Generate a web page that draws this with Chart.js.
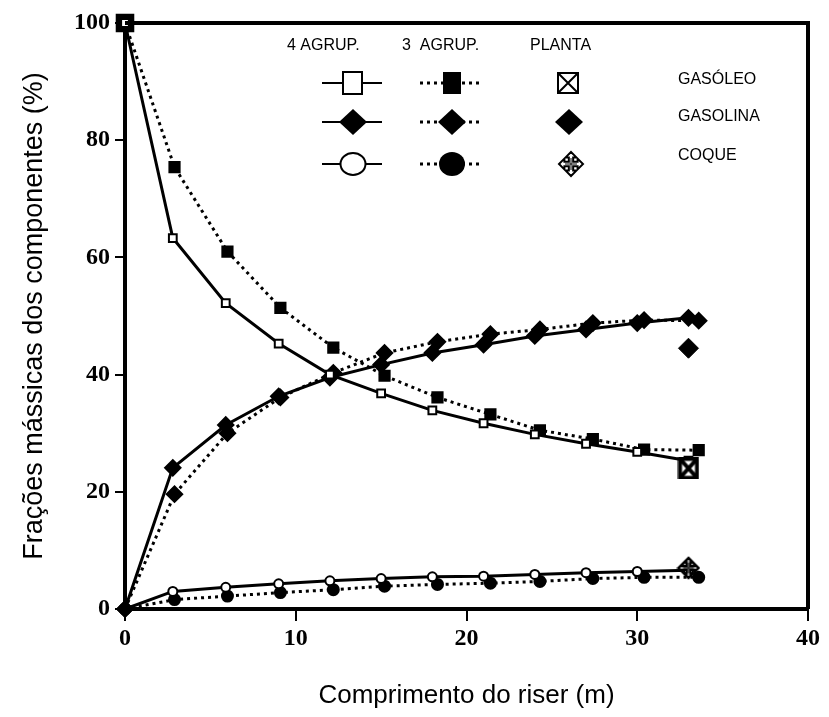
<!DOCTYPE html>
<html>
<head>
<meta charset="utf-8">
<script src="https://cdn.jsdelivr.net/npm/chart.js@4.4.1/dist/chart.umd.min.js"></script>
<style>
  html, body { margin: 0; padding: 0; background: #fff; }
</style>
</head>
<body>
<canvas id="chart" width="829" height="717"></canvas>
<script>
// riser length (m) of the points
const x4 = [0, 2.8, 5.9, 9, 12, 15, 18, 21, 24, 27, 30, 33];
const x3 = [0, 2.9, 6.0, 9.1, 12.2, 15.2, 18.3, 21.4, 24.3, 27.4, 30.4, 33.6];

// 4 agrupamentos (solid lines)
const gasoleo4 = [100, 63.3, 52.2, 45.3, 40.0, 36.8, 33.9, 31.7, 29.8, 28.2, 26.8, 25.3];
const gasolina4 = [0, 24.1, 31.4, 36.3, 39.5, 41.7, 43.7, 45.1, 46.6, 47.7, 48.8, 49.7];
const coque4 = [0, 3.0, 3.7, 4.3, 4.8, 5.2, 5.5, 5.6, 5.9, 6.2, 6.4, 6.6];

// 3 agrupamentos (dotted lines)
const gasoleo3 = [100, 75.4, 61.0, 51.4, 44.6, 39.8, 36.1, 33.2, 30.5, 29.0, 27.2, 27.1];
const gasolina3 = [0, 19.6, 30.0, 36.1, 40.3, 43.7, 45.6, 46.9, 47.7, 48.8, 49.3, 49.2];
const coque3 = [0, 1.6, 2.2, 2.8, 3.3, 3.9, 4.2, 4.4, 4.7, 5.2, 5.4, 5.4];

// planta: gasóleo, gasolina, coque
const plantaX = 33;
const planta = [24.0, 44.5, 7.0];

const xTicks = [0, 10, 20, 30, 40];
const yTicks = [0, 20, 40, 60, 80, 100];

const pts = (xs, ys) => xs.map((x, i) => ({ x: x, y: ys[i] }));

// little drawn markers for the planta points
function arrowPath(g, cx, cy, r) {
  const p = [[0,-1],[0.45,-0.55],[0.18,-0.55],[0.18,-0.18],[0.55,-0.18],[0.55,-0.45],[1,0],
    [0.55,0.45],[0.55,0.18],[0.18,0.18],[0.18,0.55],[0.45,0.55],[0,1],[-0.45,0.55],[-0.18,0.55],
    [-0.18,0.18],[-0.55,0.18],[-0.55,0.45],[-1,0],[-0.55,-0.45],[-0.55,-0.18],[-0.18,-0.18],
    [-0.18,-0.55],[-0.45,-0.55]];
  g.beginPath();
  p.forEach(([a, b], i) => i ? g.lineTo(cx + a * r, cy + b * r) : g.moveTo(cx + a * r, cy + b * r));
  g.closePath();
}

function drawCross(g, cx, cy, r, lw) {
  arrowPath(g, cx, cy, r);
  g.fillStyle = '#fff';
  g.fill();
  g.lineWidth = lw;
  g.strokeStyle = '#000';
  g.stroke();
  g.beginPath();
  g.lineWidth = 1;
  g.moveTo(cx - 0.5 * r, cy); g.lineTo(cx + 0.5 * r, cy);
  g.moveTo(cx, cy - 0.5 * r); g.lineTo(cx, cy + 0.5 * r);
  g.stroke();
}

function drawBoxX(g, cx, cy, w, h, lw) {
  g.fillStyle = '#fff';
  g.fillRect(cx - w / 2, cy - h / 2, w, h);
  g.strokeStyle = '#000';
  g.lineWidth = lw;
  g.strokeRect(cx - w / 2, cy - h / 2, w, h);
  g.beginPath();
  g.moveTo(cx - w / 2, cy - h / 2); g.lineTo(cx + w / 2, cy + h / 2);
  g.moveTo(cx + w / 2, cy - h / 2); g.lineTo(cx - w / 2, cy + h / 2);
  g.stroke();
}

function markerCanvas(size, fn) {
  const c = document.createElement('canvas');
  c.width = size; c.height = size;
  fn(c.getContext('2d'), size / 2);
  return c;
}

const boxXPlot = markerCanvas(22, (g, m) => drawBoxX(g, m, m, 17, 19, 4));
const crossPlot = markerCanvas(24, (g, m) => drawCross(g, m, m, 10, 2.5));

// legend table drawn inside the plot
const tableLegend = {
  id: 'tableLegend',
  afterDraw(chart) {
    const ctx = chart.ctx;
    ctx.save();
    ctx.fillStyle = '#000';
    ctx.font = '16px "Liberation Sans"';
    ctx.textBaseline = 'middle';
    ctx.fillText('4 AGRUP.', 287, 46);
    ctx.fillText('3  AGRUP.', 402, 46);
    ctx.fillText('PLANTA', 530, 46);

    const rows = [
      { y: 83, ty: 80, label: 'GASÓLEO' },
      { y: 122, ty: 117, label: 'GASOLINA' },
      { y: 164, ty: 156, label: 'COQUE' }
    ];
    rows.forEach((r, i) => {
      ctx.fillStyle = '#000';
      ctx.fillText(r.label, 678, r.ty);

      // lines
      ctx.strokeStyle = '#000';
      ctx.lineWidth = 2;
      ctx.setLineDash([]);
      ctx.beginPath(); ctx.moveTo(322, r.y); ctx.lineTo(382, r.y); ctx.stroke();
      ctx.lineWidth = 3;
      ctx.setLineDash([3, 4]);
      ctx.beginPath(); ctx.moveTo(420, r.y); ctx.lineTo(482, r.y); ctx.stroke();
      ctx.setLineDash([]);

      if (i === 0) {
        ctx.fillStyle = '#fff';
        ctx.fillRect(343, r.y - 11, 19, 22);
        ctx.lineWidth = 2;
        ctx.strokeRect(343, r.y - 11, 19, 22);
        ctx.fillStyle = '#000';
        ctx.fillRect(443, r.y - 11, 18, 22);
        drawBoxX(ctx, 568, r.y, 20, 20, 2);
      } else if (i === 1) {
        [353, 452, 569].forEach(cx => {
          ctx.beginPath();
          ctx.moveTo(cx, r.y - 13); ctx.lineTo(cx + 14, r.y);
          ctx.lineTo(cx, r.y + 13); ctx.lineTo(cx - 14, r.y);
          ctx.closePath();
          ctx.fillStyle = '#000';
          ctx.fill();
        });
      } else {
        ctx.beginPath();
        ctx.ellipse(353, r.y, 12.5, 11, 0, 0, Math.PI * 2);
        ctx.fillStyle = '#fff'; ctx.fill();
        ctx.lineWidth = 2; ctx.stroke();
        ctx.beginPath();
        ctx.ellipse(452, r.y, 13, 12, 0, 0, Math.PI * 2);
        ctx.fillStyle = '#000'; ctx.fill();
        drawCross(ctx, 571, r.y, 12, 2);
      }
    });
    ctx.restore();
  }
};

// top and right side of the box
const frame = {
  id: 'frame',
  afterDraw(chart) {
    const { ctx, chartArea: a } = chart;
    ctx.save();
    ctx.strokeStyle = '#000';
    ctx.lineWidth = 4;
    ctx.beginPath();
    ctx.moveTo(a.left, a.top); ctx.lineTo(a.right, a.top); ctx.lineTo(a.right, a.bottom);
    ctx.stroke();
    ctx.restore();
  }
};

const solid = { showLine: true, borderColor: '#000', borderWidth: 3, pointBorderColor: '#000', clip: false };
const dotted = { showLine: true, borderColor: '#000', borderWidth: 3, borderDash: [3, 4], pointBorderColor: '#000', clip: false };

const datasets = [
  { label: 'Planta', data: planta.map(y => ({ x: plantaX, y: y })), showLine: false,
    pointStyle: [boxXPlot, 'rectRot', crossPlot], pointRadius: [10, 10, 10],
    pointBackgroundColor: '#000', pointBorderColor: '#000', clip: false },
  Object.assign({ label: 'Gasóleo 4', data: pts(x4, gasoleo4), pointStyle: 'rect', pointRadius: 5.5,
    pointBackgroundColor: '#fff', pointBorderWidth: 2 }, solid),
  Object.assign({ label: 'Gasolina 4', data: pts(x4, gasolina4), pointStyle: 'rectRot', pointRadius: 7,
    pointBackgroundColor: '#000' }, solid),
  Object.assign({ label: 'Coque 4', data: pts(x4, coque4), pointStyle: 'circle', pointRadius: 4.5,
    pointBackgroundColor: '#fff', pointBorderWidth: 2 }, solid),
  Object.assign({ label: 'Gasóleo 3', data: pts(x3, gasoleo3), pointStyle: 'rect',
    pointRadius: ctx => ctx.dataIndex === 0 ? 11 : 6.5, pointBackgroundColor: '#000' }, dotted),
  Object.assign({ label: 'Gasolina 3', data: pts(x3, gasolina3), pointStyle: 'rectRot', pointRadius: 7,
    pointBackgroundColor: '#000' }, dotted),
  Object.assign({ label: 'Coque 3', data: pts(x3, coque3), pointStyle: 'circle', pointRadius: 5,
    pointBackgroundColor: '#000' }, dotted)
];

const tickFont = { family: 'Liberation Serif', size: 24, weight: 'bold' };

new Chart(document.getElementById('chart'), {
  type: 'scatter',
  data: { datasets: datasets },
  options: {
    responsive: false,
    animation: false,
    devicePixelRatio: 1,
    layout: { padding: { left: 0, top: 23, right: 21, bottom: 0 } },
    plugins: { legend: { display: false }, tooltip: { enabled: false } },
    scales: {
      x: {
        type: 'linear', min: 0, max: 40,
        afterBuildTicks: s => { s.ticks = xTicks.map(v => ({ value: v })); },
        afterFit: s => { s.height = 108; },
        ticks: { font: tickFont, color: '#000', padding: 3 },
        grid: { drawOnChartArea: false, drawTicks: true, tickLength: 12, color: '#000', lineWidth: 2 },
        border: { display: true, color: '#000', width: 4 },
        title: { display: true, text: 'Comprimento do riser (m)', color: '#000',
          font: { family: 'Liberation Sans', size: 26 }, padding: { top: 0, bottom: 6 } }
      },
      y: {
        type: 'linear', min: 0, max: 100,
        afterBuildTicks: s => { s.ticks = yTicks.map(v => ({ value: v })); },
        afterFit: s => { s.width = 125; },
        ticks: { font: tickFont, color: '#000', padding: 5 },
        grid: { drawOnChartArea: false, drawTicks: true, tickLength: 10, color: '#000', lineWidth: 2 },
        border: { display: true, color: '#000', width: 4 },
        title: { display: true, text: 'Frações mássicas dos componentes (%)', color: '#000',
          font: { family: 'Liberation Sans', size: 27 }, padding: { top: 18, bottom: 0 } }
      }
    }
  },
  plugins: [tableLegend, frame]
});
</script>
</body>
</html>
